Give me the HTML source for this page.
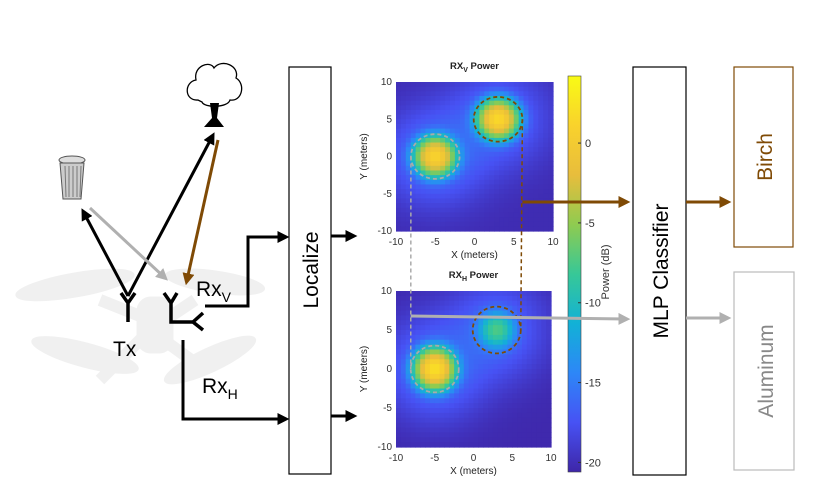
<!DOCTYPE html>
<html><head><meta charset="utf-8">
<style>
html,body{margin:0;padding:0;background:#fff;width:831px;height:492px;overflow:hidden}
svg{display:block;font-family:"Liberation Sans",sans-serif}
</style></head>
<body>
<svg id="fig" width="831" height="492" viewBox="0 0 831 492">
<defs>
<marker id="ab" markerWidth="4" markerHeight="4" refX="2.2" refY="2" orient="auto" markerUnits="strokeWidth"><path d="M0,0 L4,2 L0,4 z" fill="#000"/></marker>
<marker id="abr" markerWidth="4" markerHeight="4" refX="2.2" refY="2" orient="auto" markerUnits="strokeWidth"><path d="M0,0 L4,2 L0,4 z" fill="#7f4a05"/></marker>
<marker id="ag" markerWidth="4" markerHeight="4" refX="2.2" refY="2" orient="auto" markerUnits="strokeWidth"><path d="M0,0 L4,2 L0,4 z" fill="#b0b0b0"/></marker>
<linearGradient id="cbar" x1="0" y1="1" x2="0" y2="0">
<stop offset="0" stop-color="#3e26a8"/><stop offset="0.125" stop-color="#4752f4"/><stop offset="0.25" stop-color="#2d87f7"/><stop offset="0.375" stop-color="#12b1d6"/><stop offset="0.5" stop-color="#37c897"/><stop offset="0.625" stop-color="#8fcb50"/><stop offset="0.75" stop-color="#e8bd3c"/><stop offset="0.875" stop-color="#f9d22c"/><stop offset="1" stop-color="#f9fb15"/>
</linearGradient>
</defs>

<g fill="#f0f0f0" stroke="#f0f0f0">
<ellipse cx="75" cy="285" rx="60" ry="12" transform="rotate(-10 75 285)"/>
<ellipse cx="215" cy="282" rx="50" ry="11" transform="rotate(8 215 282)"/>
<ellipse cx="85" cy="355" rx="55" ry="12" transform="rotate(15 85 355)"/>
<ellipse cx="210" cy="360" rx="50" ry="12" transform="rotate(-25 210 360)"/>
<line x1="100" y1="300" x2="150" y2="320" stroke-width="12"/>
<line x1="195" y1="300" x2="150" y2="330" stroke-width="12"/>
<line x1="100" y1="380" x2="150" y2="330" stroke-width="12"/>
<line x1="205" y1="370" x2="150" y2="330" stroke-width="12"/>
<rect x="137" y="297" width="36" height="56" rx="14"/>
</g>

<g>
<path d="M198,100 C184,101 184,82 196,80 C193,66 210,60 214,68 C222,58 240,66 236,78 C246,84 242,102 230,100 C228,108 204,108 202,102 Z" fill="#fff" stroke="#000" stroke-width="1.3"/>
<path d="M210,103 L212,118 L204,127 L224,127 L217,118 L219,103 Z" fill="#000"/>
</g>
<g stroke="#555" stroke-width="1">
<ellipse cx="72" cy="160" rx="13" ry="4" fill="#ddd"/>
<path d="M60,163 L63,199 L81,199 L84,163 Z" fill="#ccc"/>
<path d="M65,166 L66,197 M69,166 L69,197 M73,166 L73,197 M77,166 L77,197 M81,166 L80,197" stroke="#777"/>
</g>

<g fill="none" stroke-width="3">
<line x1="128" y1="296" x2="84" y2="213" stroke="#000" marker-end="url(#ab)"/>
<line x1="128" y1="296" x2="212" y2="137" stroke="#000" marker-end="url(#ab)"/>
<line x1="90" y1="208" x2="164" y2="277" stroke="#b0b0b0" marker-end="url(#ag)"/>
<line x1="218" y1="140" x2="187" y2="280" stroke="#7f4a05" marker-end="url(#abr)"/>
</g>

<g stroke="#000" stroke-width="3.5" fill="none">
<path d="M121,293 L128,303 L135,293 M128,303 L128,322"/>
<path d="M164,293 L171,303 L177,293 M171,303 L171,322 L193,322 M203,313 L193,322 L203,330"/>
<path d="M205,306 L248,306 L248,237 L284,237" marker-end="url(#ab)" stroke-width="3"/>
<path d="M183,340 L183,419 L284,419" marker-end="url(#ab)" stroke-width="3"/>
</g>
<text x="113" y="356" font-size="21">Tx</text>
<text x="196" y="296" font-size="21">Rx<tspan font-size="14" dy="6">V</tspan></text>
<text x="202" y="393" font-size="21">Rx<tspan font-size="14" dy="6">H</tspan></text>

<rect x="289" y="67" width="42" height="407" fill="#fff" stroke="#000" stroke-width="1.2"/>
<text transform="translate(318 270) rotate(-90)" text-anchor="middle" font-size="21">Localize</text>
<line x1="331" y1="236" x2="352" y2="236" stroke="#000" stroke-width="3" marker-end="url(#ab)"/>
<line x1="331" y1="416" x2="352" y2="416" stroke="#000" stroke-width="3" marker-end="url(#ab)"/>

<g id="maps"></g>
<g id="cb"></g>

<rect x="633" y="67" width="53" height="408" fill="#fff" stroke="#000" stroke-width="1.2"/>
<text transform="translate(668 271) rotate(-90)" text-anchor="middle" font-size="21">MLP Classifier</text>
<line x1="686" y1="202" x2="726" y2="202" stroke="#7f4a05" stroke-width="3" marker-end="url(#abr)"/>
<line x1="686" y1="318" x2="726" y2="318" stroke="#b0b0b0" stroke-width="3" marker-end="url(#ag)"/>
<rect x="734" y="67" width="59" height="180" fill="#fff" stroke="#7f4a05" stroke-width="1.2"/>
<text transform="translate(772 157) rotate(-90)" text-anchor="middle" font-size="21" fill="#7f4a05">Birch</text>
<rect x="734" y="272" width="60" height="198" fill="#fff" stroke="#bbb" stroke-width="1.2"/>
<text transform="translate(773 371) rotate(-90)" text-anchor="middle" font-size="21" fill="#888">Aluminum</text>
<g id="over"></g>
</svg>
<script>
const NS='http://www.w3.org/2000/svg';
const xTicks=[-10,-5,0,5,10];
const yTicks=[-10,-5,0,5,10];
const cbTicks=[0,-5,-10,-15,-20];
const floorDb=[-20.2,-20.4];
const srcX=[-5,3];
const srcY=[0,5];
const peakV=[1,1.5];
const peakH=[2,-8];
const sigma=[1.2,1.2];
const haloDb=[-17.5,-18.5];
const titles=['RX','RX'];
const subs=['V','H'];
const stops=[[0,'#3e26a8'],[0.125,'#4752f4'],[0.25,'#2d87f7'],[0.375,'#12b1d6'],[0.5,'#37c897'],[0.625,'#8fcb50'],[0.75,'#e8bd3c'],[0.875,'#f9d22c'],[1,'#f9fb15']];
const cMin=-20.6,cMax=4.2;
function hex(h){return [1,3,5].map(i=>parseInt(h.substr(i,2),16));}
function parula(v){let t=Math.max(0,Math.min(1,(v-cMin)/(cMax-cMin)));for(let i=1;i<stops.length;i++){if(t<=stops[i][0]){const a=hex(stops[i-1][1]),b=hex(stops[i][1]);const f=(t-stops[i-1][0])/(stops[i][0]-stops[i-1][0]);return 'rgb('+a.map((c,k)=>Math.round(c+(b[k]-c)*f)).join(',')+')';}}return stops[stops.length-1][1];}
function mk(tag,attrs,parent){const e=document.createElementNS(NS,tag);for(const k in attrs)e.setAttribute(k,attrs[k]);parent.appendChild(e);return e;}
const maps=document.getElementById('maps');
const panels=[{x0:396,x1:553,y0:82,y1:231,peaks:peakV},{x0:396,x1:551,y0:291,y1:447,peaks:peakH}];
const N=32;
panels.forEach((p,pi)=>{
  const g=mk('g',{},maps);
  
  
  const sx=v=>p.x0+(v+10)/20*(p.x1-p.x0);
  const sy=v=>p.y1-(v+10)/20*(p.y1-p.y0);
  const cw=(p.x1-p.x0)/N,ch=(p.y1-p.y0)/N;
  for(let i=0;i<N;i++)for(let j=0;j<N;j++){
    const x=-10+(i+0.5)*20/N,y=10-(j+0.5)*20/N;
    let lin=Math.pow(10,floorDb[pi]/10);
    for(let s=0;s<srcX.length;s++){
      const d2=(x-srcX[s])**2+(y-srcY[s])**2;
      lin+=Math.pow(10,p.peaks[s]/10)*Math.exp(-d2/(2*sigma[s]**2));
      lin+=Math.pow(10,haloDb[s]/10)*Math.exp(-d2/(2*16));
    }
    const r=mk('rect',{x:(p.x0+i*cw).toFixed(2),y:(p.y0+j*ch).toFixed(2),width:(cw+0.6).toFixed(2),height:(ch+0.6).toFixed(2),fill:parula(10*Math.log10(lin))},g);
    
    
  }
  xTicks.forEach(t=>{const tx=mk('text',{x:sx(t),y:p.y1+14,'font-size':10,'text-anchor':'middle',fill:'#333'},g);tx.textContent=t;
    });
  yTicks.forEach(t=>{const tx=mk('text',{x:p.x0-4,y:sy(t)+3,'font-size':10,'text-anchor':'end',fill:'#333'},g);tx.textContent=t;
    });
  const xl=mk('text',{x:(p.x0+p.x1)/2,y:p.y1+27,'font-size':10,'text-anchor':'middle',fill:'#222'},g);xl.textContent='X (meters)';
  
  const yl=mk('text',{transform:'translate('+(p.x0-29)+' '+((p.y0+p.y1)/2)+') rotate(-90)','font-size':10,'text-anchor':'middle',fill:'#222'},g);yl.textContent='Y (meters)';
  
  const tt=mk('text',{x:(p.x0+p.x1)/2,y:p.y0-13,'font-size':9.5,'font-weight':'bold','text-anchor':'middle',fill:'#222'},g);
  tt.innerHTML=titles[pi]+'<tspan font-size="7" dy="3">'+subs[pi]+'</tspan><tspan dy="-3"> Power</tspan>';
  
  const cols=['#aaaaaa','#7f4a05'];
  for(let s=0;s<srcX.length;s++){
    const c=mk('ellipse',{cx:sx(srcX[s]),cy:sy(srcY[s]),rx:(p.x1-p.x0)*3.1/20,ry:(p.y1-p.y0)*3/20,fill:'none',stroke:cols[s],'stroke-width':1.8,'stroke-dasharray':'4 3'},g);
    
  }
  p.sx=sx;p.sy=sy;
});
const P0=panels[0],P1=panels[1];
const ov=document.getElementById('over');
let l=mk('line',{x1:P0.sx(-8.1),y1:P0.sy(0),x2:P1.sx(-8.1),y2:P1.sy(0),stroke:'#aaaaaa','stroke-width':1.5,'stroke-dasharray':'4 3'},maps);

l=mk('line',{x1:P0.sx(6.1),y1:P0.sy(5),x2:P1.sx(6.1),y2:P1.sy(5),stroke:'#7f4a05','stroke-width':1.5,'stroke-dasharray':'4 3'},maps);

l=mk('line',{x1:P0.sx(6.1),y1:202,x2:625,y2:202,stroke:'#7f4a05','stroke-width':3,'marker-end':'url(#abr)'},ov);

l=mk('line',{x1:P1.sx(-8.1),y1:316,x2:625,y2:319,stroke:'#b0b0b0','stroke-width':3,'marker-end':'url(#ag)'},ov);

const cb=document.getElementById('cb');
const cy0=76,cy1=472;const cv=v=>cy1-(v-cMin)/(cMax-cMin)*(cy1-cy0);
mk('rect',{x:568,y:cy0,width:13,height:cy1-cy0,fill:'url(#cbar)',stroke:'#444','stroke-width':0.6},cb);
cbTicks.forEach(t=>{mk('line',{x1:578,x2:581,y1:cv(t),y2:cv(t),stroke:'#333'},cb);
  const tx=mk('text',{x:585,y:cv(t)+4,'font-size':11,fill:'#333'},cb);tx.textContent=t;
  });
const ct=mk('text',{transform:'translate(609 272) rotate(-90)','font-size':11,'text-anchor':'middle',fill:'#333'},cb);ct.textContent='Power (dB)';

</script>
</body></html>
